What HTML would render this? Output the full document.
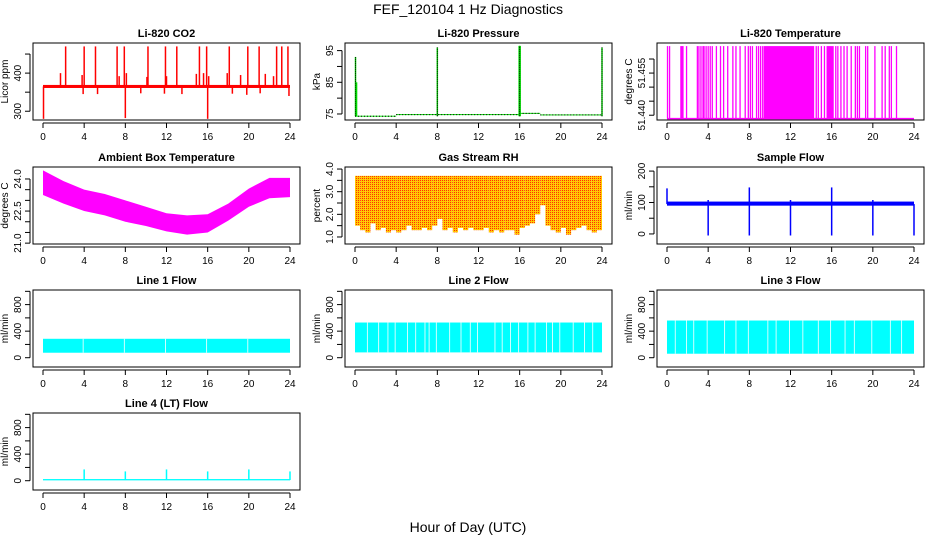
<!DOCTYPE html>
<html><head><meta charset="utf-8"><style>
html,body{margin:0;padding:0;background:#fff;}
svg{display:block;font-family:"Liberation Sans",Arial,sans-serif;}
</style></head><body>
<svg id="chart" width="936" height="540" viewBox="0 0 936 540" xmlns="http://www.w3.org/2000/svg">
<defs>
<pattern id="rhpat" width="2" height="2" patternUnits="userSpaceOnUse">
<rect width="2" height="2" fill="#ffc800"/><rect width="1" height="1" fill="#ff3000"/>
</pattern>
</defs>
<text x="468" y="14" font-size="14" text-anchor="middle">FEF_120104  1 Hz Diagnostics</text>
<text x="468" y="532" font-size="14" text-anchor="middle">Hour of Day (UTC)</text>
</svg>
<script>
// ---------- data ----------
const hourTicks = [0,4,8,12,16,20,24];
// CO2
const co2Base = [361,369];
const co2SpikeHours = [2.2,4.0,5.1,7.2,7.9,10.2,11.9,13.0,15.2,15.9,18.1,19.9,21.0,22.7,23.2,23.8];
const co2SpikeVals  = [470,470,470,470,470,470,470,470,470,470,470,470,470,470,470,470];
const co2SmallHours = [1.7,3.8,7.4,8.1,10.1,12.0,14.9,15.6,16.1,17.9,19.2,21.6,22.4];
const co2SmallVals  = [400,395,392,400,390,392,398,400,392,400,395,398,392];
const co2DipHours = [0.05,3.9,5.3,8.0,9.5,11.8,13.5,16.0,18.4,19.8,21.1,23.9];
const co2DipVals  = [280,345,345,282,347,346,345,280,346,343,347,340];
// Pressure
const presSegStart = [0,4,16,18];
const presSegEnd   = [4,16,18,24];
const presSegVal   = [74.3,74.8,75.2,74.7];
const presSpikeHours = [0.05,0.15,8.0,16.0,24.0];
const presSpikeVals  = [93,85,96,96.5,96];
// Li-820 temperature
const tempLow = 51.4388, tempHigh = 51.4646;
const tempSwitchHours = [0.05,0.25,1.35,1.45,1.55,1.9,2.95,3.1,3.3,3.5,3.6,3.8,4.0,4.2,4.4,4.8,5.2,5.5,5.9,6.4,6.7,7.1,7.6,7.9,8.1,8.3,8.7,8.9,9.1,9.3,14.5,14.7,15.0,15.3,16.4,16.6,16.9,17.2,17.5,17.9,18.3,18.5,18.7,19.3,19.5,20.2,20.9,21.2,21.6,21.8,22.3];
const tempDenseStart = [9.4,15.5];
const tempDenseEnd   = [14.3,16.2];
// Ambient box temperature (hourly envelope)
const ambHours = [0,2,4,6,8,10,12,14,16,18,20,22,24];
const ambHi = [24.4,23.9,23.5,23.3,23.0,22.7,22.4,22.3,22.35,22.85,23.55,24.05,24.05];
const ambLo = [23.25,22.85,22.5,22.3,22.0,21.8,21.55,21.4,21.5,22.05,22.7,23.1,23.15];
// Gas stream RH (half-hourly lower envelope)
const rhLo = [1.5,1.3,1.2,1.6,1.3,1.4,1.2,1.3,1.2,1.3,1.5,1.3,1.3,1.4,1.3,1.5,1.8,1.3,1.4,1.2,1.4,1.3,1.4,1.3,1.3,1.4,1.2,1.3,1.2,1.3,1.3,1.1,1.4,1.5,1.6,2.0,2.4,1.5,1.3,1.2,1.4,1.1,1.3,1.4,1.5,1.3,1.2,1.3];
const rhHi = 3.7;
// Sample flow
const sfBase = [90,103];
const sfDipHours = [4,8,12,16,20,24];
const sfSpikeHours = [0,4,8,12,16,20];
const sfSpikeVals  = [145,108,148,108,148,108];
// Line flows
const l1Band = [75,285];
const l2Band = [80,530];
const l3Band = [60,560];
const l4Band = [5,25];
const flowGapHours = [3.9,7.9,11.9,15.9,19.9];
const l2GapHours = [1.2,2.3,3.2,5.1,5.9,6.8,7.2,9.2,10.3,11.2,13.6,14.3,15.1,16.8,17.5,18.6,19.2,21.2,22.3,23.1];
const l3GapHours = [0.8,1.9,2.6,5.6,6.7,9.8,10.6,13.2,14.7,17.3,18.2,21.7,22.8];
const l4SpikeHours = [4,8,12,16,20,24];
const l4SpikeVals  = [170,140,170,140,170,140];

// ---------- drawing ----------
const NS = "http://www.w3.org/2000/svg";
const svg = document.getElementById("chart");
function mk(tag, parent){ const e=document.createElementNS(NS,tag); parent.appendChild(e); return e; }
function attr(e,o){ for(const k in o) e.setAttribute(k,o[k]); return e; }
const rowTops=[43,167,290,413];
function panel(col,row,title,ylab,ylim,yt,ylabels,slug){
  const L=33+col*312, T=rowTops[row], W=267, H=77;
  const g=mk("g",svg);
  
  
  const xs=h=>L+10+h/24*(W-20);
  const ys=v=>T+H-(v-ylim[0])/(ylim[1]-ylim[0])*H;
  const data=mk("g",g);
  
  
  const box=attr(mk("rect",g),{x:L,y:T,width:W,height:H,fill:"none",stroke:"#000","stroke-width":1});
  
  
  const t=attr(mk("text",g),{x:L+W/2,y:T-6,"font-size":11,"font-weight":"bold","text-anchor":"middle"});
  t.textContent=title;
  
  
  const xa=mk("g",g);
  
  
  attr(mk("line",xa),{x1:xs(0),x2:xs(24),y1:T+H+3,y2:T+H+3,stroke:"#000"});
  hourTicks.forEach(h=>{
    attr(mk("line",xa),{x1:xs(h),x2:xs(h),y1:T+H+3,y2:T+H+8,stroke:"#000"});
    const tl=attr(mk("text",xa),{x:xs(h),y:T+H+20,"font-size":10,"text-anchor":"middle"});
    tl.textContent=h;
  });
  const ya=mk("g",g);
  
  
  attr(mk("line",ya),{x1:L-3,x2:L-3,y1:ys(yt[0]),y2:ys(yt[yt.length-1]),stroke:"#000"});
  yt.forEach((v,i)=>{
    attr(mk("line",ya),{x1:L-8,x2:L-3,y1:ys(v),y2:ys(v),stroke:"#000"});
    if(ylabels[i]){
      const tl=attr(mk("text",ya),{x:L-12,y:ys(v),"font-size":10,"text-anchor":"middle",transform:`rotate(-90 ${L-12} ${ys(v)})`});
      tl.textContent=ylabels[i];
    }
  });
  const yl=attr(mk("text",g),{x:L-25,y:T+H/2,"font-size":10,"text-anchor":"middle",transform:`rotate(-90 ${L-25} ${T+H/2})`});
  yl.textContent=ylab;
  
  
  return {xs,ys,data};
}
function vline(p,h,a,b,c,w,dash){ const e=attr(mk("line",p.data),{x1:p.xs(h),x2:p.xs(h),y1:p.ys(a),y2:p.ys(b),stroke:c,"stroke-width":w||1}); if(dash) e.setAttribute("stroke-dasharray",dash); return e;}
function band(p,h0,h1,lo,hi,fill){ return attr(mk("rect",p.data),{x:p.xs(h0),y:p.ys(hi),width:p.xs(h1)-p.xs(h0),height:p.ys(lo)-p.ys(hi),fill:fill}); }

// CO2
let p=panel(0,0,"Li-820 CO2","Licor ppm",[277,479],[300,350,400,450],["300","","400",""],"co2");
band(p,0,24,co2Base[0],co2Base[1],"#ff0000");
co2SpikeHours.forEach((h,i)=>vline(p,h,365,co2SpikeVals[i],"#ff0000",1.5));
co2SmallHours.forEach((h,i)=>vline(p,h,365,co2SmallVals[i],"#ff0000",1.5));
co2DipHours.forEach((h,i)=>vline(p,h,365,co2DipVals[i],"#ff0000",1.5));

// Pressure
p=panel(1,0,"Li-820 Pressure","kPa",[73.1,97.4],[75,80,85,90,95],["75","","85","","95"],"pressure");
presSegStart.forEach((s,i)=>{ band(p,s,presSegEnd[i],presSegVal[i]-0.15,presSegVal[i]+0.15,"#00dd00");
  attr(mk("line",p.data),{x1:p.xs(s),x2:p.xs(presSegEnd[i]),y1:p.ys(presSegVal[i]),y2:p.ys(presSegVal[i]),stroke:"#000","stroke-dasharray":"1 2"}); });
presSpikeHours.forEach((h,i)=>{ vline(p,h,presSegVal[0],presSpikeVals[i],"#00dd00",h===16?2.5:1.5); if(i!==1) vline(p,h,74.3,presSpikeVals[i],"#000",1,"1 1"); });

// Li-820 temperature
p=panel(2,0,"Li-820 Temperature","degrees C",[51.4383,51.4657],[51.440,51.445,51.450,51.455,51.460],["51.440","","","51.455",""],"li820-temp");
attr(mk("line",p.data),{x1:p.xs(0),x2:p.xs(24),y1:p.ys(tempLow),y2:p.ys(tempLow),stroke:"#ff00ff","stroke-width":1.5});
tempSwitchHours.forEach(h=>vline(p,h,tempLow,tempHigh,"#ff00ff",1.3));
tempDenseStart.forEach((s,i)=>band(p,s,tempDenseEnd[i],tempLow,tempHigh,"#ff00ff"));

// Ambient box temp
p=panel(0,1,"Ambient Box Temperature","degrees C",[20.96,24.56],[21,21.5,22,22.5,23,23.5,24],["21.0","","","22.5","","","24.0"],"ambient-temp");
{ let pts=ambHours.map((h,i)=>p.xs(h)+","+p.ys(ambHi[i])); for(let i=ambHours.length-1;i>=0;i--) pts.push(p.xs(ambHours[i])+","+p.ys(ambLo[i]));
  attr(mk("polygon",p.data),{points:pts.join(" "),fill:"#ff00ff"}); }

// RH
p=panel(1,1,"Gas Stream RH","percent",[0.69,4.09],[1,1.5,2,2.5,3,3.5,4],["1.0","","2.0","","3.0","","4.0"],"rh");
rhLo.forEach((lo,i)=>band(p,i*0.5,i*0.5+0.5,lo,rhHi,"url(#rhpat)"));

// Sample flow
p=panel(2,1,"Sample Flow","ml/min",[-32,213],[0,50,100,150,200],["0","","100","","200"],"sample-flow");
band(p,0,24,sfBase[0],sfBase[1],"#0000ff");
sfDipHours.forEach(h=>vline(p,h,-5,95,"#0000ff",1.5));
sfSpikeHours.forEach((h,i)=>vline(p,h,95,sfSpikeVals[i],"#0000ff",1.5));

// Line flows
const fT=[0,200,400,600,800,1000], fL=["0","","400","","800",""];
function flow(col,row,title,slug,b,gaps){
  const q=panel(col,row,title,"ml/min",[-140,1020],fT,fL,slug);
  band(q,0,24,b[0],b[1],"#00ffff");
  gaps.forEach(h=>vline(q,h,b[0],b[1],"#ffffff",0.8));
  return q;
}
flow(0,2,"Line 1 Flow","line1-flow",l1Band,flowGapHours);
flow(1,2,"Line 2 Flow","line2-flow",l2Band,flowGapHours.concat(l2GapHours));
flow(2,2,"Line 3 Flow","line3-flow",l3Band,flowGapHours.concat(l3GapHours));
p=flow(0,3,"Line 4 (LT) Flow","line4-flow",l4Band,[]);
l4SpikeHours.forEach((h,i)=>vline(p,h,10,l4SpikeVals[i],"#00ffff",1.5));
</script>
</body></html>
